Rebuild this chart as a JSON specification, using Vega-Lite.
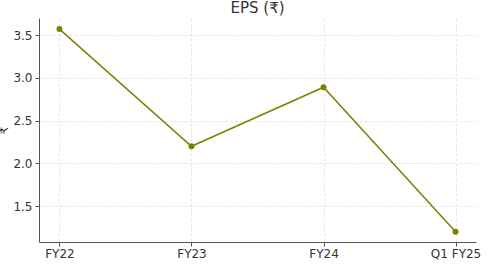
{
  "$schema": "https://vega.github.io/schema/vega-lite/v6.json",
  "width": 437,
  "height": 224,
  "autosize": {"type": "none"},
  "padding": {"left": 39, "top": 18, "right": 20, "bottom": 22},
  "background": "white",
  "title": {"text": "EPS (₹)", "fontSize": 15, "font": "DejaVu Sans", "fontWeight": "normal", "color": "#333333", "offset": 2, "anchor": "middle"},
  "config": {
    "view": {"stroke": null},
    "axis": {
      "labelFont": "DejaVu Sans",
      "labelFontSize": 12,
      "labelColor": "#333333",
      "titleFont": "DejaVu Sans",
      "titleFontSize": 12,
      "titleFontWeight": "normal",
      "titleColor": "#333333",
      "domainColor": "#555555",
      "tickColor": "#555555",
      "tickSize": 4,
      "gridColor": "#e0e0e0",
      "gridDash": [3, 2],
      "gridWidth": 0.8
    }
  },
  "data": {
    "values": [
      {"period": "FY22", "eps": 3.57},
      {"period": "FY23", "eps": 2.2},
      {"period": "FY24", "eps": 2.89},
      {"period": "Q1 FY25", "eps": 1.2}
    ]
  },
  "mark": {"type": "line", "color": "#808000", "strokeWidth": 1.5, "point": {"filled": true, "color": "#808000", "size": 36}},
  "encoding": {
    "x": {
      "field": "period", "type": "ordinal", "sort": null,
      "scale": {"type": "point", "padding": 0.155},
      "axis": {"title": null, "labelAngle": 0, "grid": true, "labelPadding": 2}
    },
    "y": {
      "field": "eps", "type": "quantitative",
      "scale": {"domain": [1.08, 3.7], "nice": false, "zero": false},
      "axis": {"title": "₹", "values": [1.5, 2.0, 2.5, 3.0, 3.5], "format": ".1f", "grid": true, "titlePadding": 2, "labelPadding": 3}
    }
  }
}
